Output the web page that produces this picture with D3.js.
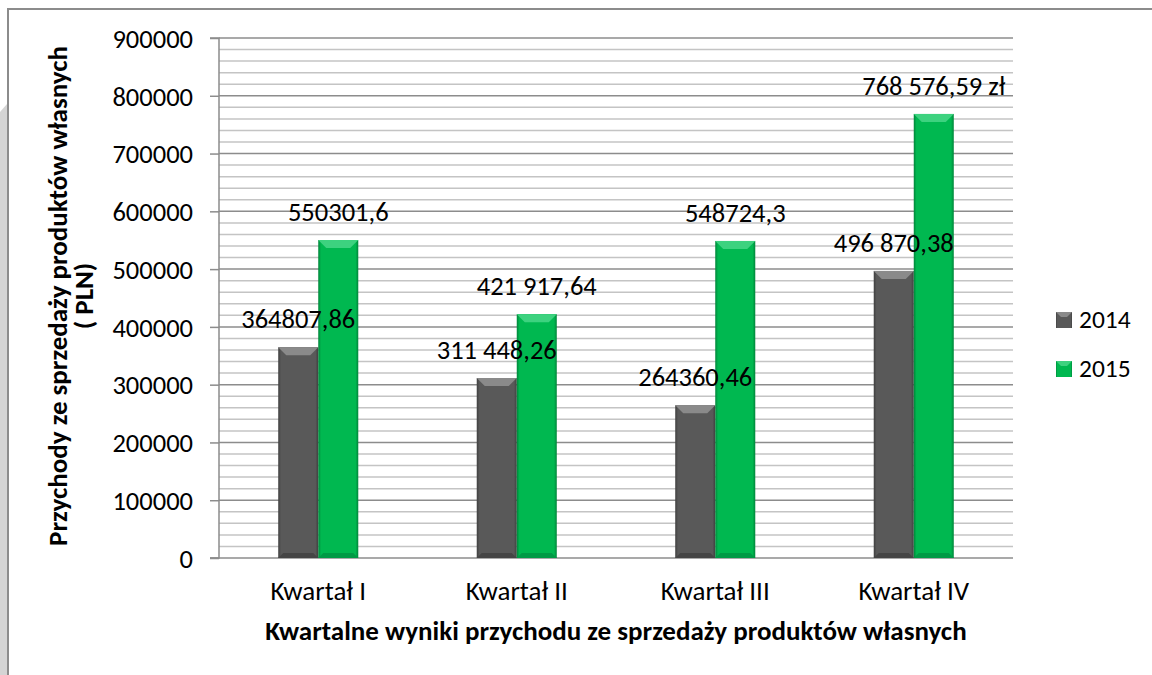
<!DOCTYPE html>
<html>
<head>
<meta charset="utf-8">
<script src="https://cdn.jsdelivr.net/npm/d3@7"></script>
<style>
  html, body { margin: 0; padding: 0; background: #ffffff; }
  svg { display: block; }
  text { font-family: Carlito, Lato, "Open Sans", sans-serif; fill: #000; }
</style>
</head>
<body>
<svg id="chart" width="1152" height="675"></svg>
<script>
// ---- data ----
const categories = ["Kwartał I", "Kwartał II", "Kwartał III", "Kwartał IV"];
const seriesNames = ["2014", "2015"];
const values2014 = [364807.86, 311448.26, 264360.46, 496870.38];
const values2015 = [550301.6, 421917.64, 548724.3, 768576.59];
const labels2014 = ["364807,86", "311 448,26", "264360,46", "496 870,38"];
const labels2015 = ["550301,6", "421 917,64", "548724,3", "768 576,59 zł"];
const yTicks = [0, 100000, 200000, 300000, 400000, 500000, 600000, 700000, 800000, 900000];
const yTitleLines = ["Przychody ze sprzedaży produktów własnych", "( PLN)"];
const xTitle = "Kwartalne wyniki przychodu ze sprzedaży produktów własnych";

const seriesValues = [values2014, values2015];
const seriesLabels = [labels2014, labels2015];

// ---- layout ----
const svg = d3.select("#chart");
const pLeft = 219, pRight = 1013, pTop = 38, pBottom = 558;

const x0 = d3.scaleBand().domain(categories).range([pLeft, pRight]).paddingInner(0).paddingOuter(0);
const x1 = d3.scaleBand().domain(seriesNames).range([0, x0.bandwidth()]).paddingInner(0).paddingOuter(1.48);
const y = d3.scaleLinear().domain([0, 900000]).range([pBottom, pTop]);

const styles = {
  "2014": { main: "#595959", edge: "#3f3f3f", light: "#8a8a8a", dark: "#454545" },
  "2015": { main: "#00b850", edge: "#00853a", light: "#3dd27f", dark: "#009a45" }
};

// defs: gradients
const defs = svg.append("defs");
seriesNames.forEach((s, i) => {
  const st = styles[s];
  const g = defs.append("linearGradient").attr("id", "grad" + i).attr("x1", "0").attr("x2", "1").attr("y1", "0").attr("y2", "0");
  g.append("stop").attr("offset", "0").attr("stop-color", st.edge);
  g.append("stop").attr("offset", "0.07").attr("stop-color", st.main);
  g.append("stop").attr("offset", "0.93").attr("stop-color", st.main);
  g.append("stop").attr("offset", "1").attr("stop-color", st.edge);
});

// ---- outer decoration (page strip + frame) ----
svg.append("polygon")
  .attr("points", "0,112 7,104 7,675 0,675")
  .attr("fill", "#d4d4d4");
svg.append("path")
  .attr("d", "M8,675 L8,9 L1152,9")
  .attr("fill", "none").attr("stroke", "#8c8c8c").attr("stroke-width", 2);

// ---- gridlines ----
const minorTicks = d3.range(0, 900001, 20000);
svg.append("g").selectAll("line.minor")
  .data(minorTicks.filter(v => v % 100000 !== 0))
  .join("line")
  .attr("x1", pLeft).attr("x2", pRight)
  .attr("y1", d => y(d)).attr("y2", d => y(d))
  .attr("stroke", "#c4c4c4").attr("stroke-width", 1.5);
svg.append("g").selectAll("line.major")
  .data(yTicks.filter(v => v !== 0))
  .join("line")
  .attr("x1", pLeft).attr("x2", pRight)
  .attr("y1", d => y(d)).attr("y2", d => y(d))
  .attr("stroke", "#8c8c8c").attr("stroke-width", 1.5);

// ---- y axis ----
const yAxis = d3.axisLeft(y).tickValues(yTicks).tickFormat(d3.format("d")).tickSize(9).tickPadding(17);
const yg = svg.append("g").attr("transform", `translate(${pLeft},0)`).call(yAxis);
yg.attr("font-family", null).attr("font-size", null);
yg.select(".domain").attr("stroke", "#8c8c8c").attr("stroke-width", 1.5).attr("d", `M-9,${pTop}H0V${pBottom}H-9`);
yg.selectAll(".tick line").attr("stroke", "#8c8c8c").attr("stroke-width", 1.5);
yg.selectAll(".tick text").style("font-size", "26.5px").attr("dy", "0.35em").style("fill", "#000");

// ---- x axis ----
const xAxis = d3.axisBottom(x0).tickSize(0).tickPadding(42);
const xg = svg.append("g").attr("transform", `translate(0,${pBottom})`).call(xAxis);
xg.attr("font-family", null).attr("font-size", null);
xg.select(".domain").attr("stroke", "#8c8c8c").attr("stroke-width", 1.5).attr("d", `M${pLeft - 9},0H${pRight}`);
xg.selectAll(".tick text").style("font-size", "27px").attr("dy", "0").style("fill", "#000");

// ---- bars ----
const bevel = 8;
const w = x1.bandwidth();
const allData = [];
seriesNames.forEach((s, i) => {
  const st = styles[s];
  const g = svg.append("g");
  const data = categories.map((c, k) => ({ c, s, v: seriesValues[i][k], lab: seriesLabels[i][k] }));
  allData.push(...data);
  const bx = d => x0(d.c) + x1(s);
  g.selectAll("rect.bar").data(data).join("rect")
    .attr("x", bx).attr("y", d => y(d.v))
    .attr("width", w).attr("height", d => y(0) - y(d.v))
    .attr("fill", `url(#grad${i})`);
  // top bevel
  g.selectAll("polygon.top").data(data).join("polygon")
    .attr("points", d => {
      const X = bx(d), Y = y(d.v);
      return `${X},${Y} ${X + w},${Y} ${X + w - bevel},${Y + bevel} ${X + bevel},${Y + bevel}`;
    })
    .attr("fill", st.light);
  // bottom bevel
  g.selectAll("polygon.bot").data(data).join("polygon")
    .attr("points", d => {
      const X = bx(d), Y = y(0);
      return `${X},${Y} ${X + w},${Y} ${X + w - 5},${Y - 5} ${X + 5},${Y - 5}`;
    })
    .attr("fill", st.dark);
});

// labels drawn after all bars
svg.append("g").selectAll("text").data(allData).join("text")
  .attr("x", d => x0(d.c) + x1(d.s) + w / 2)
  .attr("y", d => y(d.v) - 19)
  .attr("text-anchor", "middle")
  .style("font-size", "26.5px")
  .text(d => d.lab);

// ---- legend ----
const lg = svg.append("g");
seriesNames.forEach((s, i) => {
  const st = styles[s];
  const ly = 320 + i * 49;
  lg.append("rect").attr("x", 1056).attr("y", ly - 8).attr("width", 16).attr("height", 16).attr("fill", `url(#grad${i})`);
  lg.append("polygon")
    .attr("points", `1056,${ly - 8} 1072,${ly - 8} 1067,${ly - 3} 1061,${ly - 3}`)
    .attr("fill", st.light);
  lg.append("text").attr("x", 1079).attr("y", ly + 8).style("font-size", "25.5px").text(s);
});

// ---- axis titles ----
const yt = svg.append("text")
  .attr("transform", `translate(0,296) rotate(-90)`)
  .attr("text-anchor", "middle")
  .style("font-size", "27px").style("font-weight", "bold");
yt.append("tspan").attr("x", 0).attr("y", 67).text(yTitleLines[0]);
yt.append("tspan").attr("x", 0).attr("y", 93).text(yTitleLines[1]);

svg.append("text")
  .attr("x", (pLeft + pRight) / 2).attr("y", 640)
  .attr("text-anchor", "middle")
  .style("font-size", "27px").style("font-weight", "bold")
  .text(xTitle);
</script>
</body>
</html>
